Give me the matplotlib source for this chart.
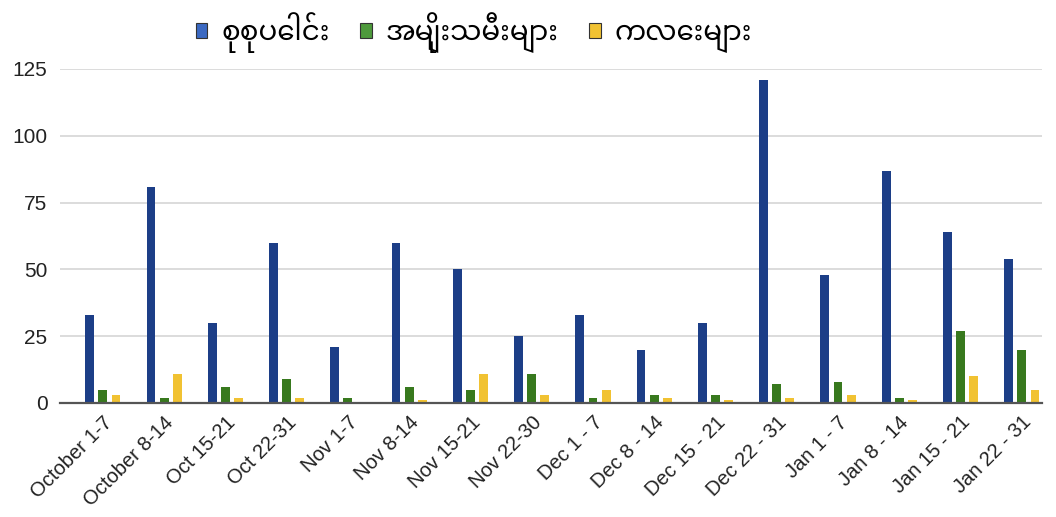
import matplotlib
matplotlib.use("Agg")
import matplotlib.pyplot as plt
from matplotlib import font_manager
from matplotlib.patches import Patch
import numpy as np

categories = ["October 1-7", "October 8-14", "Oct 15-21", "Oct 22-31", "Nov 1-7",
              "Nov 8-14", "Nov 15-21", "Nov 22-30", "Dec 1 - 7", "Dec 8 - 14",
              "Dec 15 - 21", "Dec 22 - 31", "Jan 1 - 7", "Jan 8 - 14",
              "Jan 15 - 21", "Jan 22 - 31"]
total = [33, 81, 30, 60, 21, 60, 50, 25, 33, 20, 30, 121, 48, 87, 64, 54]
women = [5, 2, 6, 9, 2, 6, 5, 11, 2, 3, 3, 7, 8, 2, 27, 20]
children = [3, 11, 2, 2, 0, 1, 11, 3, 5, 2, 1, 2, 3, 1, 10, 5]
series_names = ["စုစုပေါင်း", "အမျိုးသမီးများ", "ကလေးများ"]
yticks = [0, 25, 50, 75, 100, 125]

colors = ["#1c3e87", "#38791e", "#f1c232"]
legend_colors = ["#3b69c2", "#4e9a3c", "#f1c232"]

avail = {f.name for f in font_manager.fontManager.ttflist}
mm_fonts = [f for f in ["Noto Sans Myanmar", "Padauk", "Myanmar Text", "Myanmar3", "Pyidaungsu"] if f in avail]
legend_family = mm_fonts + ["DejaVu Sans"]
plt.rcParams["font.family"] = ["Liberation Sans", "DejaVu Sans"]

fig = plt.figure(figsize=(10.56, 5.17), dpi=100)
ax = fig.add_axes([60/1056, 1 - 403/517, (1042-60)/1056, (403-69)/517])

x = np.arange(len(categories))
w = 0.145
off = 0.215
for i, (vals, c) in enumerate(zip([total, women, children], colors)):
    ax.bar(x + (i - 1) * off, vals, width=w, color=c, zorder=3, clip_on=False)

ax.set_xlim(-0.7, len(categories) - 1 + 0.33)
ax.set_ylim(0, 125)
ax.set_yticks(yticks)
ax.set_yticklabels([str(v) for v in yticks], fontsize=15, color="#222222")
ax.set_xticks(x)
ax.set_xticklabels(categories, rotation=45, ha="right", rotation_mode="anchor",
                   fontsize=14.5, color="#222222")
ax.tick_params(axis="y", length=0, pad=9)
ax.tick_params(axis="x", length=0, pad=7)
ax.grid(axis="y", color="#d6d6d6", linewidth=1.2, zorder=0)
for s in ["top", "right", "left"]:
    ax.spines[s].set_visible(False)
ax.spines["bottom"].set_color("#555555")
ax.spines["bottom"].set_linewidth(1.6)
ax.spines["bottom"].set_zorder(4)

handles = [Patch(facecolor=lc, edgecolor="#333333", linewidth=0.8) for lc in legend_colors]
fig.legend(handles, series_names, loc="center", bbox_to_anchor=(474/1056, 1 - 33/517),
           ncol=3, frameon=False, handlelength=0.42, handleheight=0.5, handletextpad=0.5,
           columnspacing=1.1, prop={"family": legend_family, "size": 20})

fig.savefig("out.png", dpi=100)
